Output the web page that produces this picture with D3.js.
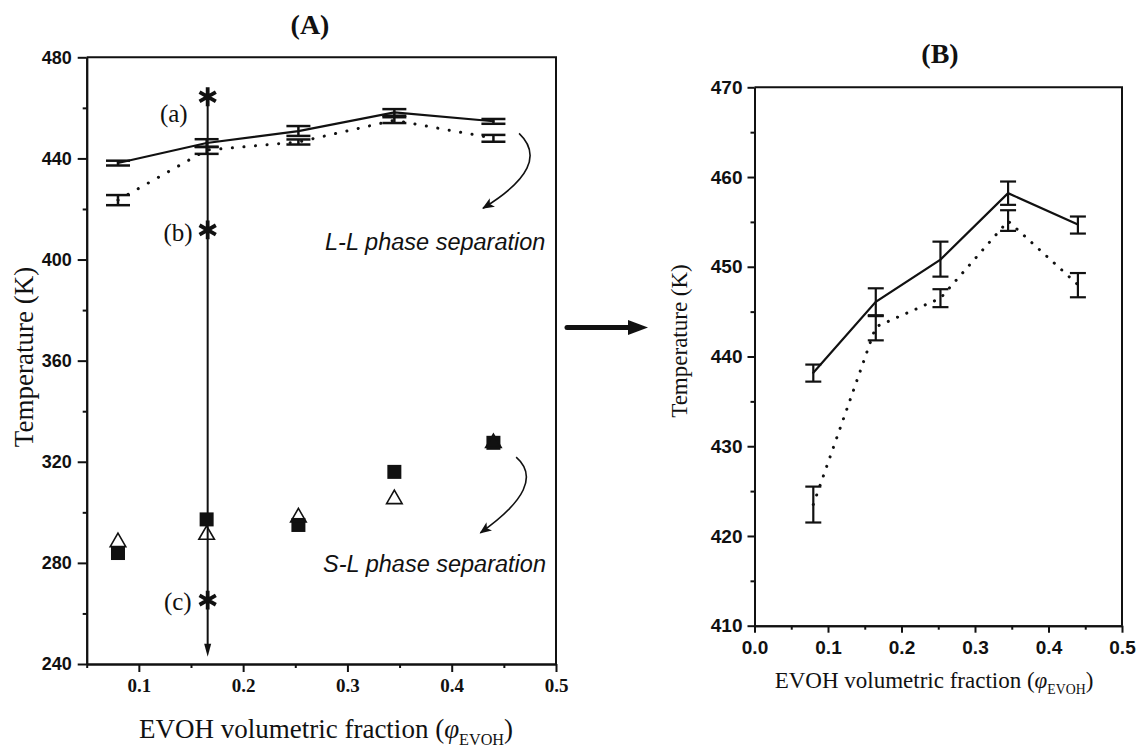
<!DOCTYPE html>
<html>
<head>
<meta charset="utf-8">
<script src="https://cdn.jsdelivr.net/npm/d3@7"></script>
<style>
  body { margin: 0; background: #fff; }
</style>
</head>
<body>
<div id="chart"></div>
<script>
// --- data ---
const fractions = [0.08, 0.165, 0.253, 0.345, 0.44];

// L-L phase separation, solid curve with error bars (K)
const solidT = [438.2, 446.1, 450.8, 458.2, 454.7];
const solidLow = [437.2, 444.5, 448.9, 456.9, 453.7];
const solidHigh = [439.1, 447.6, 452.8, 459.5, 455.6];

// L-L phase separation, dotted curve with error bars (K)
const dottedT = [423.5, 443.3, 446.5, 455.1, 448.0];
const dottedLow = [421.5, 441.8, 445.5, 454.0, 446.6];
const dottedHigh = [425.5, 444.6, 447.5, 456.3, 449.3];

// S-L phase separation points (K)
const squareT = [283.9, 297.2, 295.0, 316.0, 327.5];
const triangleT = [288.8, 291.7, 298.6, 305.8, 328.0];

// quench path at one composition
const pathFraction = 0.166;
const starLabels = ['(a)', '(b)', '(c)'];
const starT = [464.4, 411.7, 265.3];
const pathEndT = 242.9;

// tick values
const aTicksX = [0.1, 0.2, 0.3, 0.4, 0.5];
const aMinorX = [0.05, 0.15, 0.25, 0.35, 0.45];
const aTicksY = [240, 280, 320, 360, 400, 440, 480];
const aMinorY = [260, 300, 340, 380, 420, 460];
const bTicksX = [0, 0.1, 0.2, 0.3, 0.4, 0.5];
const bMinorX = [0.05, 0.15, 0.25, 0.35, 0.45];
const bTicksY = [410, 420, 430, 440, 450, 460, 470];
const bMinorY = [415, 425, 435, 445, 455, 465];

const serif = '"Liberation Serif", "Times New Roman", serif';
const sans = '"Liberation Sans", Arial, sans-serif';

const svg = d3.select('#chart').append('svg')
  .attr('width', 1136)
  .attr('height', 748);

const defs = svg.append('defs');
defs.append('marker')
  .attr('id', 'head')
  .attr('viewBox', '0 0 12 10')
  .attr('refX', 11).attr('refY', 5)
  .attr('markerUnits', 'userSpaceOnUse')
  .attr('markerWidth', 13).attr('markerHeight', 10)
  .attr('orient', 'auto')
  .append('path').attr('d', 'M0,0 L12,5 L0,10 L3,5 Z').attr('fill', '#111');

// sets up scales, axes (major + minor ticks) and the closing frame of one panel
function panelSetup(config) {
  const {xDomain, yDomain, xRange, yRange, xTicks, xMinor, yTicks, yMinor,
    xFont, yFont, xFontSize, yFontSize, xFormat, yFormat, xPad, yPad,
    xTick = 8, yTick = 8} = config;

  const x = d3.scaleLinear().domain(xDomain).range(xRange);
  const y = d3.scaleLinear().domain(yDomain).range(yRange);
  const g = svg.append('g');

  const styleAxis = (sel, font, size) => {
    sel.select('.domain').attr('stroke', '#111').attr('stroke-width', 2);
    sel.selectAll('.tick line').attr('stroke', '#111').attr('stroke-width', 2);
    sel.selectAll('.tick text').attr('fill', '#111')
      .attr('font-family', font).attr('font-size', size).attr('font-weight', 'bold');
  };

  g.append('g').attr('transform', `translate(0,${yRange[0]})`)
    .call(d3.axisBottom(x).tickValues(xMinor).tickSize(4).tickSizeOuter(0).tickFormat(''))
    .call(styleAxis);
  g.append('g').attr('transform', `translate(${xRange[0]},0)`)
    .call(d3.axisLeft(y).tickValues(yMinor).tickSize(4).tickSizeOuter(0).tickFormat(''))
    .call(styleAxis);
  g.append('g').attr('transform', `translate(0,${yRange[0]})`)
    .call(d3.axisBottom(x).tickValues(xTicks).tickSize(xTick).tickSizeOuter(0)
      .tickPadding(xPad).tickFormat(xFormat))
    .call(styleAxis, xFont, xFontSize);
  g.append('g').attr('transform', `translate(${xRange[0]},0)`)
    .call(d3.axisLeft(y).tickValues(yTicks).tickSize(yTick).tickSizeOuter(0)
      .tickPadding(yPad).tickFormat(yFormat))
    .call(styleAxis, yFont, yFontSize);

  // top and right frame
  g.append('path')
    .attr('d', `M${xRange[0]},${yRange[1]}H${xRange[1]}V${yRange[0]}`)
    .attr('fill', 'none').attr('stroke', '#111').attr('stroke-width', 2);

  return {g, x, y};
}

function rows(t, lo, hi) {
  return fractions.map((f, i) => ({f, t: t[i], lo: lo[i], hi: hi[i]}));
}

function drawSeries(p, data, opts) {
  const line = d3.line().x(d => p.x(d.f)).y(d => p.y(d.t));
  p.g.append('path').datum(data)
    .attr('d', line)
    .attr('fill', 'none')
    .attr('stroke', '#111')
    .attr('stroke-width', opts.dotted ? 3 : 2.2)
    .attr('stroke-linecap', 'round')
    .attr('stroke-dasharray', opts.dotted ? opts.dash : null);

  const bars = p.g.append('g').attr('stroke', '#111').attr('stroke-width', opts.barWidth);
  bars.selectAll('.v').data(data).join('line')
    .attr('x1', d => p.x(d.f)).attr('x2', d => p.x(d.f))
    .attr('y1', d => p.y(d.lo)).attr('y2', d => p.y(d.hi));
  ['lo', 'hi'].forEach(k => {
    bars.selectAll('.' + k).data(data).join('line')
      .attr('x1', d => p.x(d.f) - opts.cap).attr('x2', d => p.x(d.f) + opts.cap)
      .attr('y1', d => p.y(d[k])).attr('y2', d => p.y(d[k]));
  });
}

// ---------------- panel A ----------------
const A = panelSetup({
  xDomain: [0.05, 0.5], yDomain: [240, 480],
  xRange: [86.7, 556], yRange: [664, 57.3],
  xTicks: aTicksX, xMinor: aMinorX, yTicks: aTicksY, yMinor: aMinorY,
  xFont: serif, xFontSize: 19, yFont: sans, yFontSize: 18,
  xFormat: d3.format('.1f'), yFormat: d3.format('d'),
  xPad: 7, yPad: 6, yTick: 9,
});

drawSeries(A, rows(solidT, solidLow, solidHigh), {cap: 12, barWidth: 2.5});
drawSeries(A, rows(dottedT, dottedLow, dottedHigh), {cap: 12, barWidth: 2.5, dotted: true, dash: '0.1,11.5'});

// quench path with its three stars
const pathX = A.x(pathFraction);
A.g.append('line')
  .attr('x1', pathX).attr('x2', pathX)
  .attr('y1', A.y(starT[0])).attr('y2', A.y(pathEndT) - 12)
  .attr('stroke', '#111').attr('stroke-width', 2);
A.g.append('path')
  .attr('d', `M${pathX - 3.5},${A.y(pathEndT) - 13}L${pathX + 3.5},${A.y(pathEndT) - 13}L${pathX},${A.y(pathEndT)}Z`)
  .attr('fill', '#111');

const starSym = d3.symbol(d3.symbolAsterisk, 250);
A.g.selectAll('.star').data(starT).join('path')
  .attr('transform', t => `translate(${pathX},${A.y(t)})`)
  .attr('d', starSym)
  .attr('fill', 'none').attr('stroke', '#111').attr('stroke-width', 3.8);

const starLabelOffset = [[-20, 25], [-15, 11], [-16, 10]];
A.g.selectAll('.starLabel').data(starLabels).join('text')
  .attr('x', (d, i) => pathX + starLabelOffset[i][0])
  .attr('y', (d, i) => A.y(starT[i]) + starLabelOffset[i][1])
  .attr('text-anchor', 'end')
  .attr('font-family', serif).attr('font-size', 25).attr('fill', '#111')
  .text(d => d);

// S-L points
A.g.selectAll('.sq').data(fractions).join('rect')
  .attr('x', (f) => A.x(f) - 7).attr('y', (f, i) => A.y(squareT[i]) - 7)
  .attr('width', 14).attr('height', 14)
  .attr('fill', '#111');
const triSym = d3.symbol(d3.symbolTriangle, 105);
A.g.selectAll('.tri').data(fractions).join('path')
  .attr('transform', (f, i) => `translate(${A.x(f)},${A.y(triangleT[i]) + 1.5})`)
  .attr('d', triSym)
  .attr('fill', 'none').attr('stroke', '#111').attr('stroke-width', 1.6);

// curved arrows, given in data units (fraction, K)
const curveArrows = [
  [[0.4646, 449.9], [0.497, 437.2], [0.430, 420.3]],
  [[0.4618, 321.8], [0.4924, 310.8], [0.4275, 291.9]],
];
curveArrows.forEach(pts => {
  const [p0, c, p1] = pts.map(([f, t]) => [A.x(f), A.y(t)]);
  const path = d3.path();
  path.moveTo(p0[0], p0[1]);
  path.quadraticCurveTo(c[0], c[1], p1[0], p1[1]);
  A.g.append('path').attr('d', path.toString())
    .attr('fill', 'none').attr('stroke', '#111').attr('stroke-width', 1.6)
    .attr('marker-end', 'url(#head)');
});

A.g.append('text')
  .attr('x', 325).attr('y', 250)
  .attr('font-family', sans).attr('font-style', 'italic').attr('font-size', 23.5)
  .attr('fill', '#111').text('L-L phase separation');
A.g.append('text')
  .attr('x', 323).attr('y', 571.5)
  .attr('font-family', sans).attr('font-style', 'italic').attr('font-size', 23.5)
  .attr('fill', '#111').text('S-L phase separation');

// ---------------- panel B ----------------
const B = panelSetup({
  xDomain: [0, 0.5], yDomain: [410, 470],
  xRange: [754.5, 1122], yRange: [625.7, 87.3],
  xTicks: bTicksX, xMinor: bMinorX, yTicks: bTicksY, yMinor: bMinorY,
  xFont: sans, xFontSize: 19, yFont: sans, yFontSize: 19,
  xFormat: d3.format('.1f'), yFormat: d3.format('d'),
  xPad: 8, yPad: 5, xTick: 7, yTick: 7,
});

drawSeries(B, rows(solidT, solidLow, solidHigh), {cap: 8, barWidth: 2.2});
drawSeries(B, rows(dottedT, dottedLow, dottedHigh), {cap: 8, barWidth: 2.2, dotted: true, dash: '0.1,10'});

// ---------------- titles, axis labels, connecting arrow ----------------
function xTitle(cx, baseline, size) {
  const t = svg.append('text')
    .attr('x', cx).attr('y', baseline)
    .attr('text-anchor', 'middle')
    .attr('font-family', serif).attr('font-size', size).attr('fill', '#111');
  t.append('tspan').text('EVOH volumetric fraction (');
  t.append('tspan').attr('font-style', 'italic').text('\u03c6');
  t.append('tspan').attr('font-size', size * 0.6).attr('dy', size * 0.25).text('EVOH');
  t.append('tspan').attr('dy', -size * 0.25).text(')');
}
function yTitle(cx, cy, size) {
  svg.append('text')
    .attr('transform', `translate(${cx},${cy}) rotate(-90)`)
    .attr('text-anchor', 'middle').attr('dy', '0.35em')
    .attr('font-family', serif).attr('font-size', size).attr('fill', '#111')
    .text('Temperature (K)');
}

svg.append('text').attr('x', 310).attr('y', 34).attr('text-anchor', 'middle')
  .attr('font-family', serif).attr('font-weight', 'bold').attr('font-size', 28)
  .attr('fill', '#111').text('(A)');
svg.append('text').attr('x', 940).attr('y', 63).attr('text-anchor', 'middle')
  .attr('font-family', serif).attr('font-weight', 'bold').attr('font-size', 28)
  .attr('fill', '#111').text('(B)');

xTitle(326, 738, 27);
yTitle(24, 357, 27);
xTitle(934, 688, 23);
yTitle(679, 341, 23);

// arrow from panel A to panel B
svg.append('line')
  .attr('x1', 567).attr('x2', 632).attr('y1', 327.5).attr('y2', 327.5)
  .attr('stroke', '#111').attr('stroke-width', 5).attr('stroke-linecap', 'round');
svg.append('path')
  .attr('d', 'M628,320 L648,327.5 L628,335 Z')
  .attr('fill', '#111');
</script>
</body>
</html>
